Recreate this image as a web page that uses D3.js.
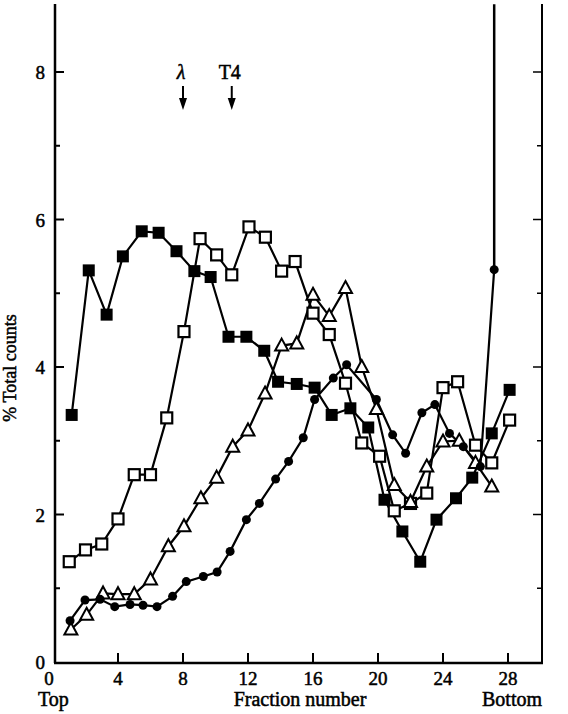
<!DOCTYPE html><html><head><meta charset="utf-8">
<script src="https://cdn.jsdelivr.net/npm/d3@7"></script>
<style>body{margin:0;background:#fff}svg{font-family:"Liberation Serif","DejaVu Serif",serif}</style></head><body>
<svg id="c" width="568" height="714"></svg>
<script>
const xTicks=[0,4,8,12,16,20,24,28];
const yTicks=[0,2,4,6,8];
const filledSqX=[1.15,2.2,3.3,4.3,5.46,6.5,7.6,8.7,9.7,10.8,11.9,13.0,13.85,15,16.1,17.15,18.3,19.4,20.4,21.5,22.6,23.6,24.8,25.8,27,28.1];
const filledSqY=[3.35,5.31,4.71,5.5,5.84,5.82,5.57,5.3,5.22,4.41,4.41,4.22,3.8,3.77,3.72,3.35,3.44,3.18,2.2,1.77,1.36,1.93,2.22,2.5,3.1,3.69];
const openSqX=[1,2,3,4,5,6,7,8.06,9.05,10.07,11,12.06,13.07,14.07,14.9,16,17,18,19,20.1,21,22,23,24,24.9,26,27,28.1];
const openSqY=[1.36,1.52,1.6,1.94,2.54,2.54,3.31,4.48,5.74,5.52,5.25,5.9,5.76,5.3,5.43,4.73,4.44,3.78,2.97,2.79,2.05,2.15,2.29,3.72,3.8,2.94,2.7,3.28];
const triX=[1.1,2.07,3.08,4,5,6,7.1,8.06,9.1,10.07,11.06,12,13.05,14.07,15,16,17,18,19,19.9,21,22,23,24,25,26,27];
const triY=[0.44,0.64,0.93,0.92,0.92,1.12,1.57,1.84,2.22,2.5,2.92,3.14,3.64,4.29,4.32,4.98,4.69,5.07,4.0,3.43,2.4,2.17,2.65,2.99,3.0,2.7,2.38];
const circX=[1.05,1.97,2.9,3.8,4.74,5.54,6.4,7.36,8.2,9.25,10.1,10.9,11.9,12.7,13.7,14.5,15.4,16.1,17.25,18.07,19.9,20.9,21.7,22.7,23.5,24.4,25.25,26.3,27.15];
const circY=[0.56,0.84,0.85,0.75,0.78,0.77,0.75,0.89,1.09,1.16,1.22,1.5,1.93,2.15,2.48,2.72,3.04,3.56,3.85,4.03,3.56,3.08,2.83,3.38,3.49,3.1,2.92,2.65,5.32];
const spike=[[27.15,5.32],[27.15,8.92]];
const arrowsX=[8,11], arrowLabels=["λ","T4"];

const svg=d3.select("#c");
const x=d3.scaleLinear().domain([0,28]).range([53,508]);
const y=d3.scaleLinear().domain([0,8]).range([662,72]);
svg.append("line").attr("x1",55).attr("x2",55).attr("y1",4).attr("y2",663).attr("stroke","#000").attr("stroke-width",2.5);
svg.append("line").attr("x1",54).attr("x2",543).attr("y1",663).attr("y2",663).attr("stroke","#000").attr("stroke-width",2.5);
svg.append("line").attr("x1",542).attr("x2",542).attr("y1",4).attr("y2",663).attr("stroke","#000").attr("stroke-width",2);
d3.range(1,9).forEach(v=>{const len=v%2?5:9;
 svg.append("line").attr("x1",55).attr("x2",55+len).attr("y1",y(v)).attr("y2",y(v)).attr("stroke","#000").attr("stroke-width",2);
 svg.append("line").attr("x1",542).attr("x2",542-len).attr("y1",y(v)).attr("y2",y(v)).attr("stroke","#000").attr("stroke-width",1.5);});
xTicks.slice(1).forEach(v=>svg.append("line").attr("x1",x(v)).attr("x2",x(v)).attr("y1",663).attr("y2",653).attr("stroke","#000").attr("stroke-width",2));
const T=svg.append("g").attr("fill","#000").attr("stroke","#000").attr("stroke-width",0.5);
xTicks.forEach(v=>T.append("text").attr("x",x(v)+(v==0?-4:0)).attr("y",685).attr("text-anchor","middle").attr("font-size",19).text(v));
yTicks.forEach(v=>T.append("text").attr("x",45).attr("y",y(v)+7).attr("text-anchor","end").attr("font-size",19).text(v));
T.append("text").attr("x",38).attr("y",706).attr("font-size",20).text("Top");
T.append("text").attr("x",300).attr("y",706).attr("text-anchor","middle").attr("font-size",20).text("Fraction number");
T.append("text").attr("x",482).attr("y",706).attr("font-size",20).text("Bottom");
T.append("text").attr("transform","translate(16,368) rotate(-90)").attr("text-anchor","middle").attr("font-size",18).text("% Total counts");
arrowsX.forEach((v,i)=>{
 T.append("text").attr("x",x(v)-2).attr("y",79).attr("text-anchor","middle").attr("font-size",20).attr("font-style",i?"normal":"italic").text(arrowLabels[i]);
 svg.append("line").attr("x1",x(v)).attr("x2",x(v)).attr("y1",86).attr("y2",100).attr("stroke","#000").attr("stroke-width",2);
 svg.append("path").attr("d",`M${x(v)-4},98L${x(v)+4},98L${x(v)},110Z`).attr("fill","#000");});
const line=d3.line().x(d=>x(d[0])).y(d=>y(d[1]));
const series=[
 {xs:filledSqX,ys:filledSqY,t:"fsq"},{xs:openSqX,ys:openSqY,t:"osq"},
 {xs:triX,ys:triY,t:"tri"},{xs:circX,ys:circY,t:"circ"}];
series.forEach(s=>{const pts=s.xs.map((v,i)=>[v,s.ys[i]]);
 svg.append("path").attr("d",line(pts)).attr("fill","none").attr("stroke","#000").attr("stroke-width",2.2);});
svg.append("path").attr("d",line(spike)).attr("stroke","#000").attr("stroke-width",2.5);
series.forEach(s=>{const pts=s.xs.map((v,i)=>[v,s.ys[i]]);
 pts.forEach(p=>{const cx=x(p[0]),cy=y(p[1]);
  if(s.t=="fsq")svg.append("rect").attr("x",cx-6).attr("y",cy-6).attr("width",12).attr("height",12).attr("fill","#000");
  else if(s.t=="osq")svg.append("rect").attr("x",cx-5.5).attr("y",cy-5.5).attr("width",11).attr("height",11).attr("fill","#fff").attr("stroke","#000").attr("stroke-width",2.2);
  else if(s.t=="tri")svg.append("path").attr("d",`M${cx},${cy-7}L${cx+6.5},${cy+5}L${cx-6.5},${cy+5}Z`).attr("fill","#fff").attr("stroke","#000").attr("stroke-width",2);
  else svg.append("circle").attr("cx",cx).attr("cy",cy).attr("r",4.5).attr("fill","#000");});});
</script></body></html>
